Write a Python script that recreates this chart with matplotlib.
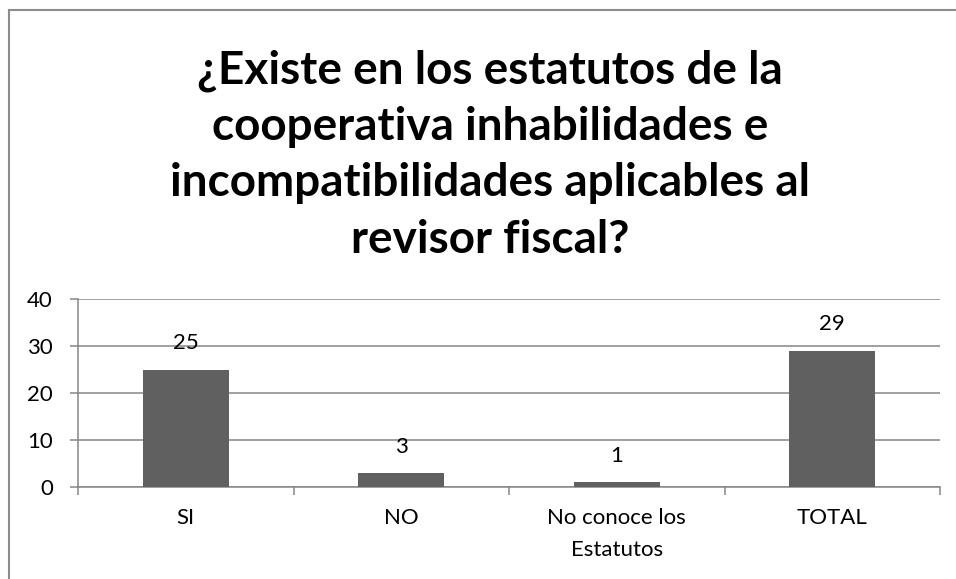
import matplotlib
matplotlib.use('Agg')
import matplotlib.pyplot as plt
from matplotlib.lines import Line2D

categories = ['SI', 'NO', 'No conoce los\nEstatutos', 'TOTAL']
values = [25, 3, 1, 29]
title = ('¿Existe en los estatutos de la\ncooperativa inhabilidades e\n'
         'incompatibilidades aplicables al\nrevisor fiscal?')

plt.rcParams['font.family'] = ['Lato', 'DejaVu Sans']

W, H = 956, 579
fig = plt.figure(figsize=(W / 100, H / 100), dpi=100)
ax = fig.add_axes([78 / W, (H - 487) / H, (940 - 78) / W, (487 - 299) / H])

grey = '#868686'
x = range(len(categories))
ax.bar(x, values, width=0.4, color='#606060', zorder=3)
for xi, v in zip(x, values):
    ax.annotate(str(v), (xi, v), xytext=(0, 19), textcoords='offset points',
                ha='center', va='center', fontsize=16)

ax.set_xlim(-0.5, len(categories) - 0.5)
ax.set_ylim(0, 40)
ax.set_yticks([0, 10, 20, 30, 40])
ax.yaxis.grid(True, color=grey, linewidth=1.1, zorder=0)
ax.set_xticks(x)
ax.set_xticklabels(categories, fontsize=16, linespacing=1.75)
ax.tick_params(axis='x', length=0, pad=15)
ax.tick_params(axis='y', length=6, color=grey, width=1.1, labelsize=16, pad=12)
ax.set_xticks([i + 0.5 for i in range(-1, len(categories))], minor=True)
ax.tick_params(axis='x', which='minor', length=6, color=grey, width=1.1)
for s in ['top', 'right']:
    ax.spines[s].set_visible(False)
for s in ['left', 'bottom']:
    ax.spines[s].set_color(grey)
    ax.spines[s].set_linewidth(1.1)

fig.text(490 / W, (H - 155) / H, title, ha='center', va='center', fontsize=33,
         fontweight='bold', linespacing=1.42)

# chart border (left and top visible)
fig.add_artist(Line2D([9 / W, 9 / W], [0, (H - 10) / H], color='#8c8c8c', lw=1.5))
fig.add_artist(Line2D([9 / W, 1.0], [(H - 10) / H, (H - 10) / H], color='#8c8c8c', lw=1.5))

fig.savefig('out.png', dpi=100, facecolor='white')
